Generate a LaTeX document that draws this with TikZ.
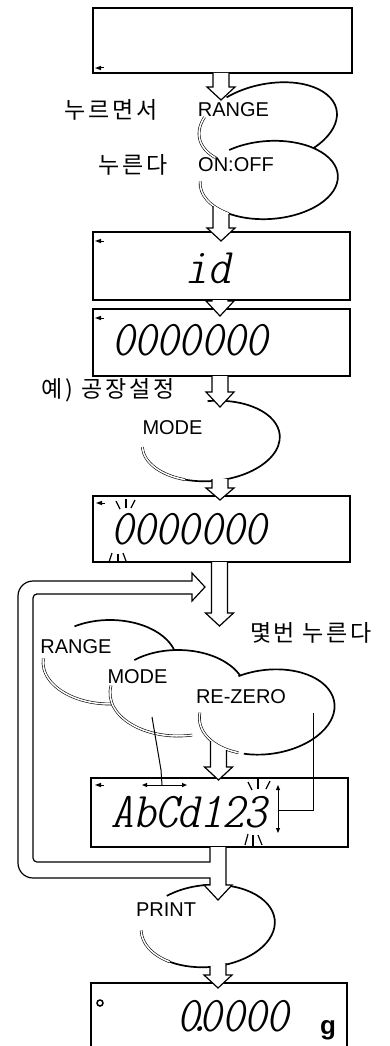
\documentclass[tikz,border=0pt]{standalone}
\usepackage{fontspec}
\setmainfont{Liberation Sans}
\newfontfamily\keyfont{Liberation Sans}
\newfontfamily\krfont[LetterSpace=12]{Noto Sans CJK KR}
\newfontfamily\segfont[FakeStretch=1.27]{lmmonoltcond10-oblique.otf}
\usetikzlibrary{arrows.meta}
\tikzset{
  dispbox/.style={draw, line width=1.1pt, rectangle, inner sep=0pt, outer sep=0pt, anchor=north west},
  keyline/.style={line width=1.7pt},
  keyshadow/.style={draw=black, double=white, line width=0.6pt, double distance=1.5pt},
  arr/.style={fill=white, draw=black, line width=1.2pt, line join=miter},
  loopline/.style={draw=black, line width=1.2pt, line join=miter},
  keylabel/.style={font=\keyfont\fontsize{20}{20}\selectfont, inner sep=0pt},
  krlabel/.style={font=\krfont\fontsize{23}{23}\selectfont, inner sep=0pt},
  seg/.style={font=\segfont\fontsize{50}{50}\selectfont, inner sep=0pt},
  thinline/.style={line width=1pt},
  tipsboth/.style={{Triangle[length=5pt,width=4pt]}-{Triangle[length=5pt,width=4pt]}},
  flashmark/.style={line width=1.2pt},
}
% cx cy a b rot t1 t2 style
\newcommand\keypart[8]{\draw[#8, shift={(#1,-#2)}, rotate=#5] (#6:#3pt and #4pt) arc[start angle=#6, end angle=#7, x radius=#3pt, y radius=#4pt];}
\newcommand\keyfill[5]{\fill[white, shift={(#1,-#2)}, rotate=#5] (0,0) ellipse [x radius=#3pt, y radius=#4pt];}
% cx topL topR head tip
\newcommand\blockarrow[5]{\filldraw[arr] (#1-8,-#2) -- (#1-8,-#4) -- (#1-14,-#4) -- (#1,-#5) -- (#1+14,-#4) -- (#1+8,-#4) -- (#1+8,-#3);}
\newcommand\indic[2]{\fill (#1,-#2) -- (#1+6,-#2+2.2) -- (#1+6,-#2-2.2) -- cycle; \draw[line width=1pt] (#1+5,-#2) -- (#1+9,-#2);}
\begin{document}
\begin{tikzpicture}[x=1pt,y=1pt]
\useasboundingbox (0,0) rectangle (389,-1046);
\fill[white] (0,0) rectangle (389,-1046);

% display boxes
\node[dispbox, minimum width=259pt, minimum height=65pt] (b1) at (93,-8) {};
\node[dispbox, minimum width=257pt, minimum height=68pt] (b2) at (93,-232) {};
\node[dispbox, minimum width=257pt, minimum height=67pt] (b3) at (93,-309) {};
\node[dispbox, minimum width=257pt, minimum height=66pt] (b4) at (93,-496) {};
\node[dispbox, minimum width=257pt, minimum height=69pt] (b5) at (91,-778) {};
\node[dispbox, minimum width=256pt, minimum height=75pt] (b6) at (91,-983) {};

\indic{95}{68}
\indic{95}{241}
\indic{95}{318}
\indic{96}{503}
\indic{95}{785}
\draw[line width=1.5pt] (100,-1003) circle (3pt);

% display contents
\node[seg] (d2) at (208,-268) {id};
\node[seg] (d3) at (190,-340) {0000000};
\node[seg] (d4) at (189,-529) {0000000};
\node[seg] (d5) at (189,-812) {AbCd123};
\node[seg] (d6) at (233,-1016) {0\kern-11pt.\kern-11pt0000};
\node[font=\keyfont\bfseries\fontsize{26}{26}\selectfont, inner sep=0pt] (gunit) at (328,-1030) {g};

% flash marks
\draw[flashmark] (116,-501) -- (120,-509);
\draw[flashmark] (126,-499) -- (126,-508);
\draw[flashmark] (135,-500) -- (131,-508);
\draw[flashmark] (109,-562) -- (112,-553);
\draw[flashmark] (118,-563) -- (118,-554);
\draw[flashmark] (126,-561) -- (123,-553);
\draw[flashmark] (248,-782) -- (252,-790);
\draw[flashmark] (258,-779) -- (258,-789);
\draw[flashmark] (270,-781) -- (266,-789);
\draw[flashmark] (245,-845) -- (248,-834);
\draw[flashmark] (253,-846) -- (253,-835);
\draw[flashmark] (262,-845) -- (258,-835);

% key RANGE / ON:OFF
\keypart{268}{124}{70}{40}{12}{120}{-60}{keyline}
\keypart{268}{124}{70}{40}{12}{150}{225}{keyshadow}
\node[keylabel] (kRange) at (233.5,-110) {RANGE};
\keyfill{269}{180}{69}{39}{4}
\keypart{269}{180}{69}{39}{4}{123}{-130}{keyline}
\keypart{269}{180}{69}{39}{4}{175}{232}{keyshadow}
\node[keylabel] (kOnOff) at (236,-165) {ON:OFF};

% key MODE
\keypart{211}{441}{69}{40}{5}{90}{-115}{keyline}
\keypart{211}{441}{69}{40}{5}{180}{245}{keyshadow}
\node[keylabel] (kMode) at (172.5,-428) {MODE};

% keys RANGE / MODE / RE-ZERO
\keypart{110}{662}{67}{42}{0}{122}{0}{keyline}
\keypart{110}{662}{67}{42}{0}{175}{280}{keyshadow}
\node[keylabel] (kRange2) at (76,-647) {RANGE};
\keyfill{178}{693}{68}{43}{0}
\keypart{178}{693}{68}{43}{0}{130}{-30}{keyline}
\keypart{178}{693}{68}{43}{0}{170}{282}{keyshadow}
\node[keylabel] (kMode2) at (137.5,-677) {MODE};
\keyfill{267}{712}{68}{42}{8}
\keypart{267}{712}{68}{42}{8}{110}{-115}{keyline}
\keypart{267}{712}{68}{42}{8}{168}{240}{keyshadow}
\node[keylabel] (kRezero) at (241,-697) {RE-ZERO};

% key PRINT
\keypart{208}{926}{67}{41}{5}{125}{-132}{keyline}
\keypart{208}{926}{67}{41}{5}{178}{232}{keyshadow}
\node[keylabel] (kPrint) at (166,-910) {PRINT};

% thin connectors
\coordinate (m1) at (152,-717);
\coordinate (m2) at (161,-770);
\coordinate (hA) at (162,-785);
\draw[thinline] (m1) -- (m2) -- (hA);
\draw[thinline, tipsboth] (142,-785) -- (187,-785);
\coordinate (r1) at (313,-713);
\coordinate (r2) at (313,-810);
\coordinate (vA) at (278,-810);
\draw[thinline] (r1) -- (r2) -- (vA);
\draw[thinline, tipsboth] (278,-785) -- (278,-833);

% block arrows
\blockarrow{221}{73}{73}{87}{100}
\blockarrow{221}{206}{214}{228}{241}
\blockarrow{220}{300}{300}{301}{316}
\blockarrow{220}{376}{376}{392}{407}
\blockarrow{220}{479}{479}{488}{500}
\blockarrow{219.5}{562}{562}{613}{626}
\blockarrow{218.5}{741}{750}{767}{780}
\blockarrow{218}{966}{963}{975}{988}

% loop back arrow and arrow below AbCd123
\fill[white] (210,-847) -- (210,-885) -- (204,-885) -- (218,-900) -- (232,-885) -- (226,-885) -- (226,-847) -- cycle;
\draw[loopline] (210,-847) -- (210,-862) -- (40,-862) [rounded corners=4pt] -- (33,-862) -- (33,-594) -- (40,-594) [sharp corners] -- (192,-594) -- (192,-601) -- (205,-587) -- (192,-573) -- (192,-581) -- (60,-581) [rounded corners=15pt] -- (18,-581) -- (18,-878) -- (60,-878) [sharp corners] -- (210,-878) -- (210,-885) -- (204,-885) -- (218,-900) -- (232,-885) -- (226,-885) -- (226,-847);

% Korean labels
\node[krlabel] (t1) at (111,-110) {누르면서};
\node[krlabel] (t2) at (133,-165) {누른다};
\node[krlabel] (t3) at (108,-390) {예) 공장설정};
\node[krlabel] (t4) at (311,-633) {몇번 누른다};
\end{tikzpicture}
\end{document}
